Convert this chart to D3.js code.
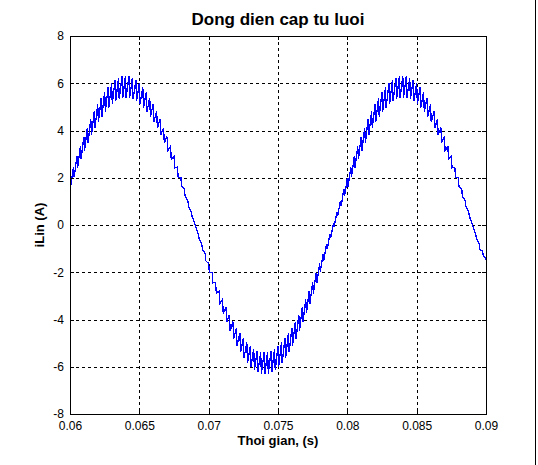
<!DOCTYPE html>
<html><head><meta charset="utf-8">
<script src="https://cdn.jsdelivr.net/npm/d3@7"></script>
<style>
body{margin:0;background:#fff}
svg{display:block}
text{font-family:"Liberation Sans",Arial,Helvetica,sans-serif}
</style>
</head><body>
<svg id="c" width="538" height="465"></svg>
<script>
// ---- data ----
const tStart = 0.06;      // first sample time (s)
const tStep  = 0.00025;   // switching period (s)
// upper ripple values per switching period
const iMax = [
 1.99, 2.45, 2.90, 3.33, 3.74, 4.12, 4.48, 4.81, 5.11, 5.39,
 5.63, 5.83, 6.00, 6.14, 6.24, 6.29, 6.31, 6.29, 6.24, 6.14,
 6.00, 5.83, 5.63, 5.39, 5.11, 4.81, 4.48, 4.12, 3.74, 3.33,
 2.90, 2.45, 1.99, 1.52, 1.03, 0.55, 0.06,-0.37,-0.79,-1.22,
-1.63,-2.03,-2.42,-2.79,-3.14,-3.48,-3.80,-4.09,-4.35,-4.59,
-4.79,-4.97,-5.12,-5.24,-5.32,-5.37,-5.39,-5.37,-5.32,-5.24,
-5.12,-4.97,-4.79,-4.59,-4.35,-4.09,-3.80,-3.48,-3.14,-2.79,
-2.42,-2.03,-1.63,-1.22,-0.79,-0.37, 0.06, 0.55, 1.03, 1.52,
 1.99, 2.45, 2.90, 3.33, 3.74, 4.12, 4.48, 4.81, 5.11, 5.39,
 5.63, 5.83, 6.00, 6.14, 6.24, 6.29, 6.31, 6.29, 6.24, 6.14,
 6.00, 5.83, 5.63, 5.39, 5.11, 4.81, 4.48, 4.12, 3.74, 3.33,
 2.90, 2.45, 1.99, 1.52, 1.03, 0.55, 0.06,-0.37,-0.79,-1.10,
-1.40
];
// lower ripple values per switching period
const iMin = [
 1.63, 2.03, 2.42, 2.79, 3.14, 3.48, 3.80, 4.09, 4.35, 4.59,
 4.79, 4.97, 5.12, 5.24, 5.32, 5.37, 5.39, 5.37, 5.32, 5.24,
 5.12, 4.97, 4.79, 4.59, 4.35, 4.09, 3.80, 3.48, 3.14, 2.79,
 2.42, 2.03, 1.63, 1.22, 0.79, 0.37,-0.06,-0.55,-1.03,-1.52,
-1.99,-2.45,-2.90,-3.33,-3.74,-4.12,-4.48,-4.81,-5.11,-5.39,
-5.63,-5.83,-6.00,-6.14,-6.24,-6.29,-6.31,-6.29,-6.24,-6.14,
-6.00,-5.83,-5.63,-5.39,-5.11,-4.81,-4.48,-4.12,-3.74,-3.33,
-2.90,-2.45,-1.99,-1.52,-1.03,-0.55,-0.06, 0.37, 0.79, 1.22,
 1.63, 2.03, 2.42, 2.79, 3.14, 3.48, 3.80, 4.09, 4.35, 4.59,
 4.79, 4.97, 5.12, 5.24, 5.32, 5.37, 5.39, 5.37, 5.32, 5.24,
 5.12, 4.97, 4.79, 4.59, 4.35, 4.09, 3.80, 3.48, 3.14, 2.79,
 2.42, 2.03, 1.63, 1.22, 0.79, 0.37,-0.06,-0.55,-1.03,-1.30,
-1.50
];
const xTicks = [0.06, 0.065, 0.07, 0.075, 0.08, 0.085, 0.09];
const xTickLabels = ["0.06", "0.065", "0.07", "0.075", "0.08", "0.085", "0.09"];
const yTicks = [-8, -6, -4, -2, 0, 2, 4, 6, 8];
const yTickLabels = ["-8", "-6", "-4", "-2", "0", "2", "4", "6", "8"];
const titleText = "Dong dien cap tu luoi";
const xLabelText = "Thoi gian, (s)";
const yLabelText = "iLin (A)";

// ---- layout ----
const W = 538, H = 465;
const L = 70, R = 486, T = 36, B = 414;
const svg = d3.select("#c");
svg.append("rect").attr("width", W).attr("height", H).attr("fill", "#fff");

const x = d3.scaleLinear().domain([xTicks[0], xTicks[xTicks.length - 1]]).range([L, R]);
const y = d3.scaleLinear().domain([yTicks[0], yTicks[yTicks.length - 1]]).range([B, T]);

// grid
const grid = svg.append("g").attr("stroke", "#000").attr("stroke-width", 1)
  .attr("stroke-dasharray", "3,3").attr("shape-rendering", "crispEdges");
grid.selectAll(".gx").data(xTicks.slice(1, -1)).join("line")
  .attr("x1", d => Math.round(x(d)) + 0.5).attr("x2", d => Math.round(x(d)) + 0.5)
  .attr("y1", T).attr("y2", B);
grid.selectAll(".gy").data(yTicks.slice(1, -1)).join("line")
  .attr("y1", d => Math.round(y(d)) + 0.5).attr("y2", d => Math.round(y(d)) + 0.5)
  .attr("x1", L).attr("x2", R);

// signal: fast fall to the low value, slower rise to the next high value
const pts = [];
iMax.forEach((v, k) => {
  const t = tStart + k * tStep;
  pts.push([t, v]);
  if (k < iMax.length - 1) pts.push([t + tStep * 0.2, iMin[k]]);
  else pts.push([t, iMin[k]]);
});
svg.append("clipPath").attr("id", "clip").append("rect")
  .attr("x", L).attr("y", T).attr("width", R - L).attr("height", B - T);
svg.append("path").datum(pts)
  .attr("clip-path", "url(#clip)")
  .attr("fill", "none").attr("stroke", "#0000ff").attr("stroke-width", 1.3)
  .attr("shape-rendering", "crispEdges")
  .attr("d", d3.line().x(d => x(d[0])).y(d => y(d[1])));

// axes
const fmtX = (d) => xTickLabels[xTicks.indexOf(d)];
const fmtY = (d) => yTickLabels[yTicks.indexOf(d)];
function style(g, fs) {
  g.select(".domain").remove();
  g.selectAll("line").attr("stroke", "#000").attr("shape-rendering", "crispEdges");
  g.selectAll("text").attr("fill", "#000").attr("font-size", fs);
}
svg.append("g").attr("transform", `translate(0,${B})`)
  .call(d3.axisBottom(x).tickValues(xTicks).tickFormat(fmtX).tickSize(-4).tickPadding(7))
  .call(g => style(g, 12))
  .call(g => g.attr("font-family", null));
svg.append("g").attr("transform", `translate(0,${T})`)
  .call(d3.axisTop(x).tickValues(xTicks).tickFormat("").tickSize(-4))
  .call(g => style(g, 12));
svg.append("g").attr("transform", `translate(${L},0)`)
  .call(d3.axisLeft(y).tickValues(yTicks).tickFormat(fmtY).tickSize(-4).tickPadding(6))
  .call(g => style(g, 12))
  .call(g => g.attr("font-family", null));
svg.append("g").attr("transform", `translate(${R},0)`)
  .call(d3.axisRight(y).tickValues(yTicks).tickFormat("").tickSize(-4))
  .call(g => style(g, 12));

// box
svg.append("rect").attr("x", L + 0.5).attr("y", T + 0.5).attr("width", R - L).attr("height", B - T)
  .attr("fill", "none").attr("stroke", "#000").attr("stroke-width", 1).attr("shape-rendering", "crispEdges");

// titles
svg.append("text").attr("x", (L + R) / 2).attr("y", 25).attr("text-anchor", "middle")
  .attr("font-size", 17).attr("font-weight", "bold").text(titleText);
svg.append("text").attr("x", (L + R) / 2).attr("y", 445).attr("text-anchor", "middle")
  .attr("font-size", 13).attr("font-weight", "bold").text(xLabelText);
svg.append("text").attr("transform", `translate(44,${(T + B) / 2}) rotate(-90)`).attr("text-anchor", "middle")
  .attr("font-size", 13).attr("font-weight", "bold").text(yLabelText);

// window edge line
svg.append("line").attr("x1", 535.5).attr("x2", 535.5).attr("y1", 0).attr("y2", H)
  .attr("stroke", "#000").attr("stroke-width", 1);
</script>
</body></html>
